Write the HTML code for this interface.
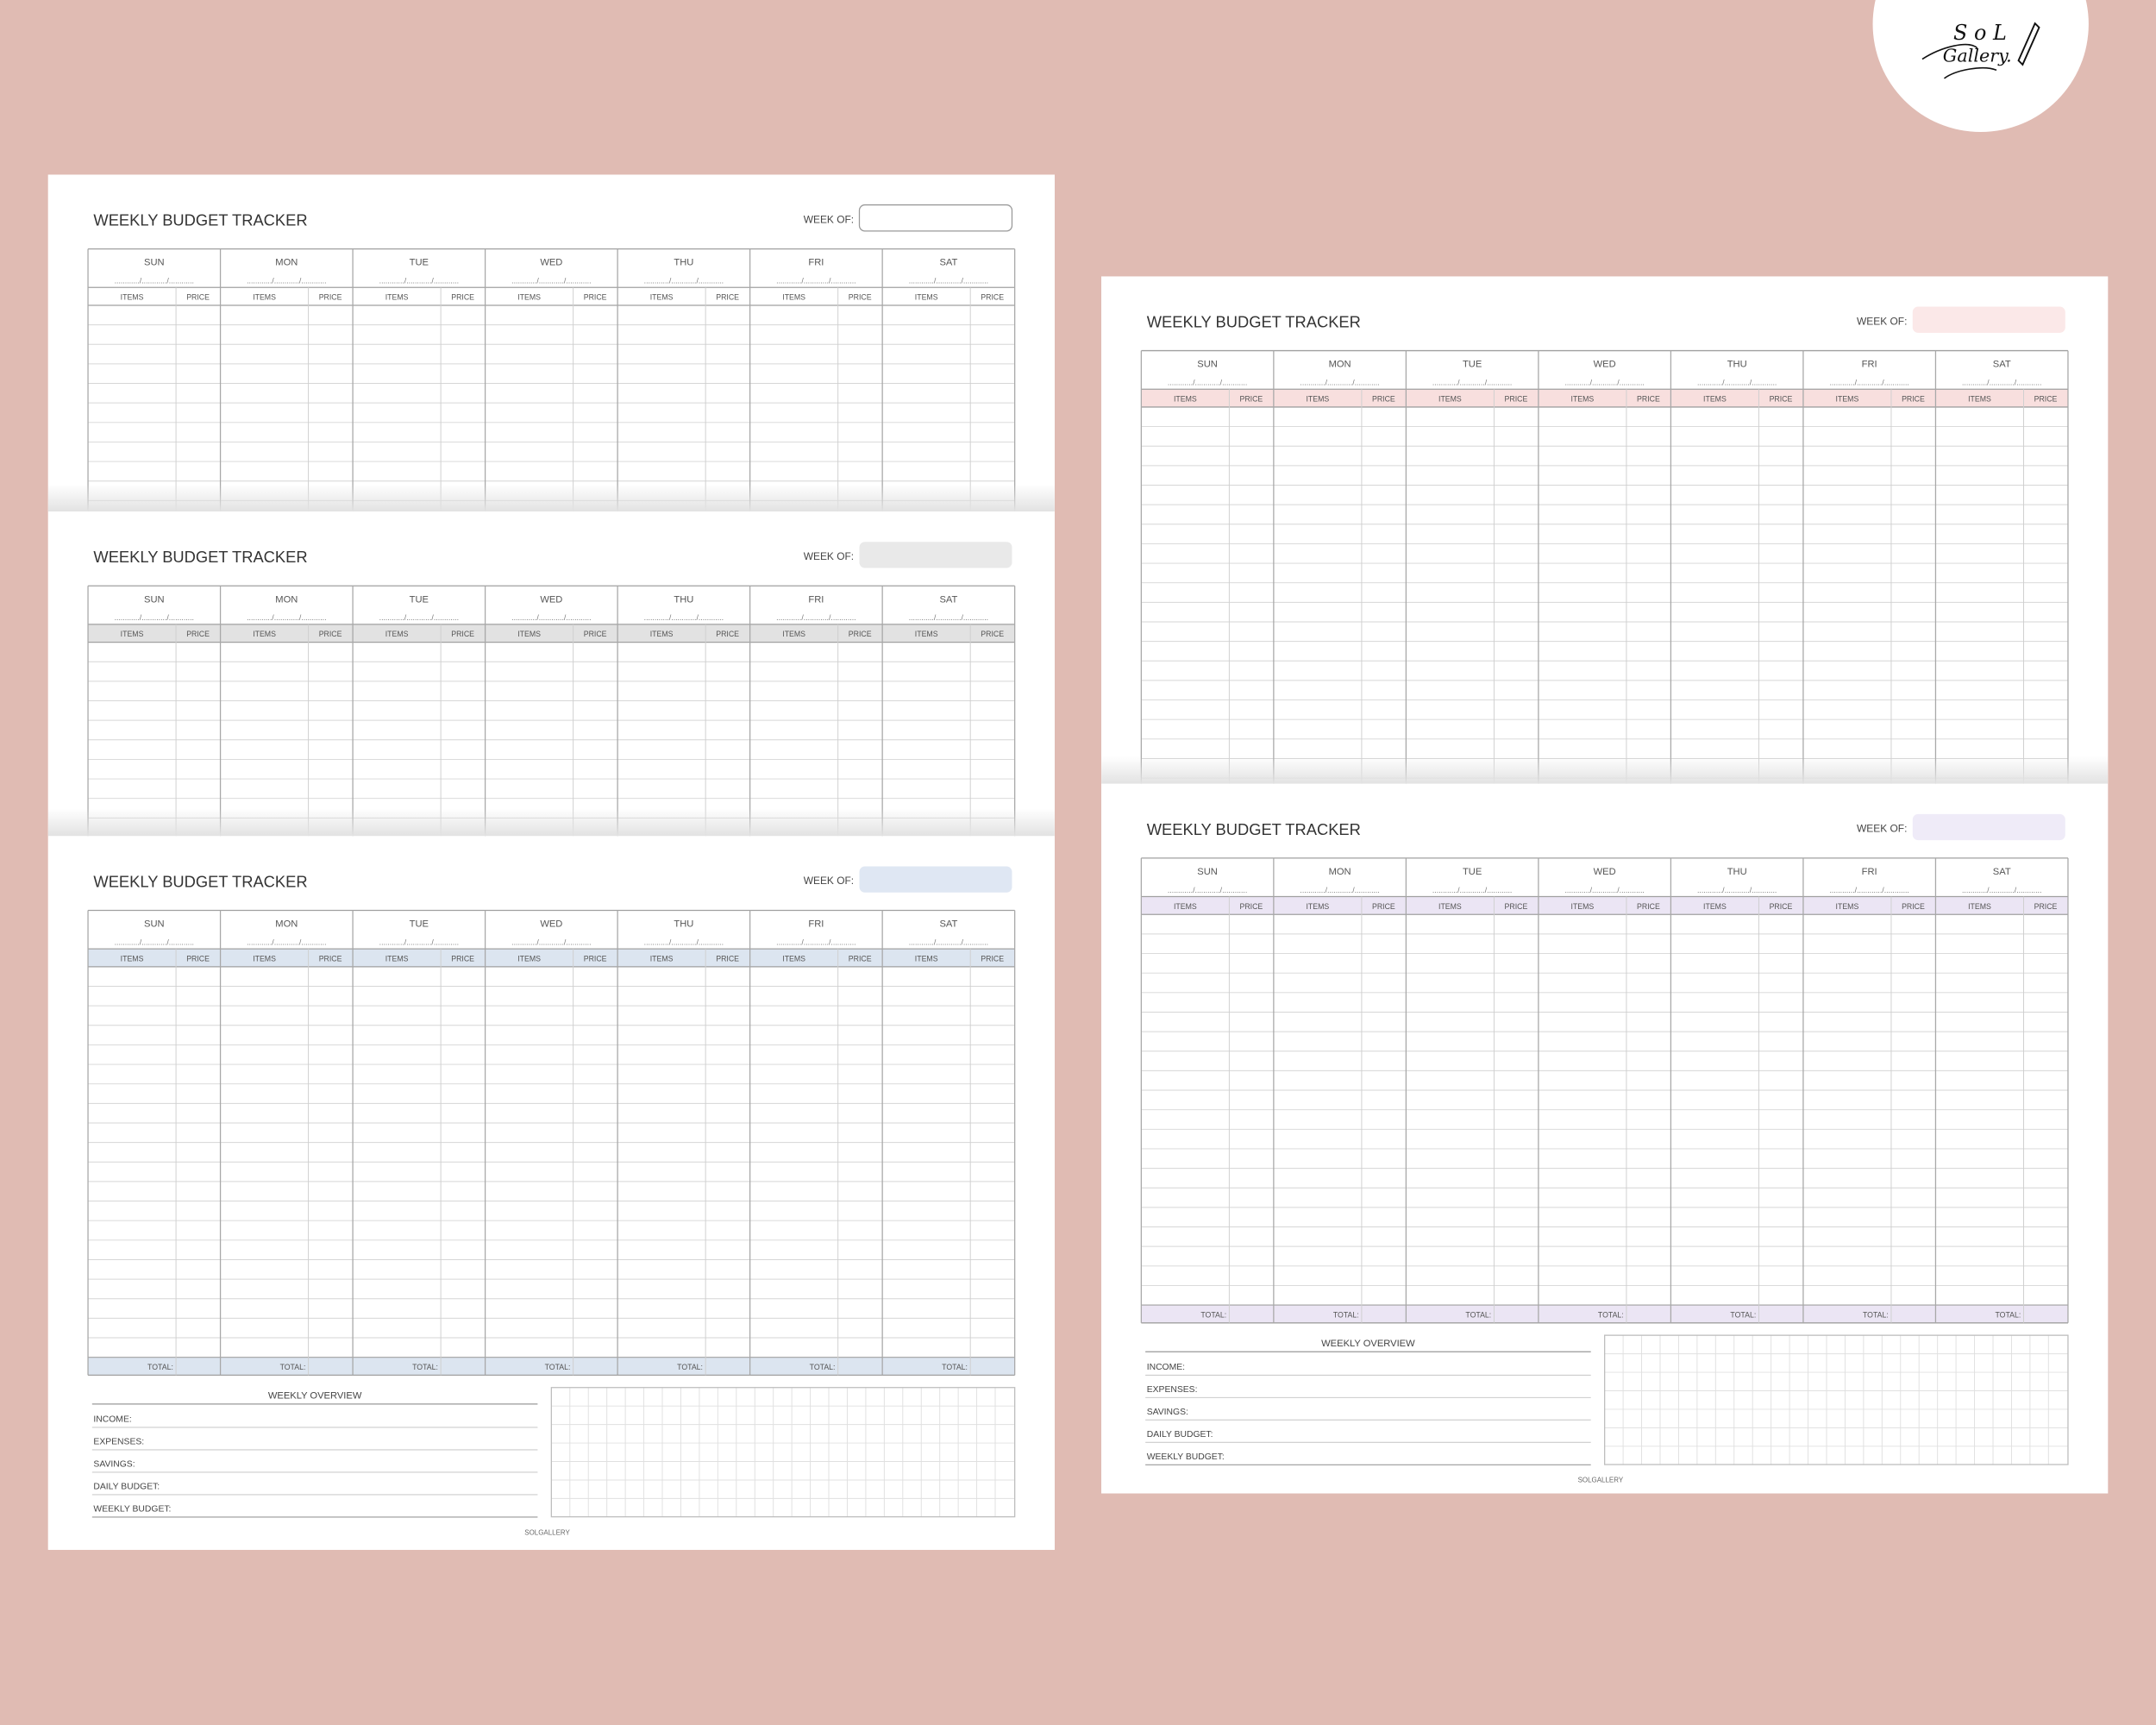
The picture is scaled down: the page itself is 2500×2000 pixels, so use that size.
<!DOCTYPE html>
<html><head><meta charset="utf-8">
<style>
html,body{margin:0;padding:0;background:#e0bbb3;width:2500px;height:2000px;overflow:hidden}
#stage{position:absolute;left:0;top:0;width:1568px;height:1254px;transform:scale(1.59439);transform-origin:0 0;font-family:"Liberation Sans",sans-serif}
.sheet{position:absolute;background:#fff}
.page{position:absolute;left:0;width:732px;overflow:hidden;background:#fff}
.page svg{position:absolute;left:0;top:0}
.shade{position:absolute;left:0;right:0;bottom:0;height:20px;background:linear-gradient(to bottom,rgba(255,255,255,0),#e2e2e2)}
#logo{position:absolute;left:1362px;top:-61px;width:157px;height:157px;border-radius:50%;background:#fff}
</style></head>
<body>
<div id="stage">
  <div id="logo">
    <svg width="157" height="157" viewBox="0 0 157 157">
      <text x="78" y="90" text-anchor="middle" font-family="DejaVu Serif, serif" font-style="italic" font-size="15" fill="#111">S o L</text>
      <text x="76" y="106" text-anchor="middle" font-family="DejaVu Serif, serif" font-style="italic" font-size="13" fill="#111">Gallery.</text>
      <path d="M118 78 L106 105 L109 108 L121 81 Z" fill="none" stroke="#111" stroke-width="1.2"/>
      <path d="M36 104 C50 95 70 90 76 96 M52 118 C60 112 80 108 90 112" fill="none" stroke="#111" stroke-width="1"/>
    </svg>
  </div>
  <div class="sheet" id="sheetL" style="left:35px;top:127px;width:732px;height:1000px"></div>
  <div class="sheet" id="sheetR" style="left:801px;top:201px;width:732px;height:885px"></div>
</div>
<script>
const days = ["SUN","MON","TUE","WED","THU","FRI","SAT"];
const overviewLabels = ["INCOME:","EXPENSES:","SAVINGS:","DAILY BUDGET:","WEEKLY BUDGET:"];
const rowCount = 20;
const NS = "http://www.w3.org/2000/svg";

function el(parent, tag, attrs, text) {
  const e = document.createElementNS(NS, tag);
  for (const k in attrs) e.setAttribute(k, attrs[k]);
  if (text !== undefined) e.textContent = text;
  parent.appendChild(e);
  return e;
}

function makePage(sheetId, top, height, band, box, boxStroke, full, name) {
  const sheet = document.getElementById(sheetId);
  const page = document.createElement('div');
  page.className = 'page';
  page.style.top = top + 'px';
  page.style.height = height + 'px';
  
  
  sheet.appendChild(page);
  const svg = el(page, 'svg', {width: 732, height: height});
  const F = '"Liberation Sans",sans-serif';

  const t = el(svg, 'text', {x: 33, y: 37, 'font-size': 11.5, fill: '#333', 'font-family': F}, 'WEEKLY BUDGET TRACKER');
  
  
  const wl = el(svg, 'text', {x: 586, y: 35, 'font-size': 7.5, fill: '#444', 'text-anchor': 'end', 'font-family': F}, 'WEEK OF:');
  
  
  const wb = el(svg, 'rect', {x: 590, y: 22, width: 111, height: 19, rx: 4, fill: box, stroke: boxStroke, 'stroke-width': 0.8});
  
  

  const X0 = 29, W = 674, colW = W / 7, T0 = 54, rowH = 14.2;
  const bottom = full ? 392 : height + 10;
  if (band !== 'none') el(svg, 'rect', {x: X0, y: 82, width: W, height: 13, fill: band});
  if (full) el(svg, 'rect', {x: X0, y: 95 + rowH * rowCount, width: W, height: 392 - (95 + rowH * rowCount), fill: band === 'none' ? '#fff' : band});
  const nRows = full ? rowCount : Math.ceil((height - 95) / rowH) + 1;
  for (let r = 1; r < nRows; r++) {
    const y = 95 + r * rowH;
    el(svg, 'line', {x1: X0, x2: X0 + W, y1: y, y2: y, stroke: '#d6d6d6', 'stroke-width': 0.6});
  }
  [T0, 82, 95].forEach(y => el(svg, 'line', {x1: X0, x2: X0 + W, y1: y, y2: y, stroke: '#a0a0a0', 'stroke-width': 0.8}));
  if (full) {
    el(svg, 'line', {x1: X0, x2: X0 + W, y1: 95 + rowH * rowCount, y2: 95 + rowH * rowCount, stroke: '#a0a0a0', 'stroke-width': 0.7});
    el(svg, 'line', {x1: X0, x2: X0 + W, y1: 392, y2: 392, stroke: '#a0a0a0', 'stroke-width': 0.8});
  }
  for (let i = 0; i <= 7; i++) {
    const x = X0 + i * colW;
    el(svg, 'line', {x1: x, x2: x, y1: T0, y2: bottom, stroke: '#a8a8a8', 'stroke-width': 0.8});
  }
  days.forEach((d, i) => {
    const x = X0 + i * colW;
    el(svg, 'line', {x1: x + 64, x2: x + 64, y1: 82, y2: bottom, stroke: '#cfcfcf', 'stroke-width': 0.6});
    const dn = el(svg, 'text', {x: x + colW / 2, y: 66, 'font-size': 7, fill: '#555', 'text-anchor': 'middle', 'font-family': F}, d);
    
    
    el(svg, 'text', {x: x + colW / 2, y: 79, 'font-size': 5.5, fill: '#777', 'text-anchor': 'middle', 'font-family': F}, '............/............/............');
    el(svg, 'text', {x: x + 32, y: 91, 'font-size': 5.5, fill: '#555', 'text-anchor': 'middle', 'font-family': F}, 'ITEMS');
    el(svg, 'text', {x: x + 80, y: 91, 'font-size': 5.5, fill: '#555', 'text-anchor': 'middle', 'font-family': F}, 'PRICE');
    if (full) {
      const tt = el(svg, 'text', {x: x + 62, y: 388, 'font-size': 5.5, fill: '#555', 'text-anchor': 'end', 'font-family': F}, 'TOTAL:');
      
      
    }
  });

  if (full) {
    const ot = el(svg, 'text', {x: 194, y: 409, 'font-size': 7, fill: '#444', 'text-anchor': 'middle', 'font-family': F}, 'WEEKLY OVERVIEW');
    
    
    el(svg, 'line', {x1: 32, x2: 356, y1: 413, y2: 413, stroke: '#999', 'stroke-width': 0.8});
    overviewLabels.forEach((lab, i) => {
      const y = 426 + i * 16.3;
      const lt = el(svg, 'text', {x: 33, y: y, 'font-size': 6.5, fill: '#444', 'font-family': F}, lab);
      
      
      el(svg, 'line', {x1: 32, x2: 356, y1: y + 4, y2: y + 4, stroke: i === 4 ? '#999' : '#ccc', 'stroke-width': 0.7});
    });
    const gx = 366, gy = 401, gw = 337, gh = 94, cell = 13.45;
    for (let x = gx + cell; x < gx + gw - 1; x += cell) el(svg, 'line', {x1: x, x2: x, y1: gy, y2: gy + gh, stroke: '#e0e0e0', 'stroke-width': 0.6});
    for (let y = gy + cell; y < gy + gh - 1; y += cell) el(svg, 'line', {x1: gx, x2: gx + gw, y1: y, y2: y, stroke: '#e0e0e0', 'stroke-width': 0.6});
    const gr = el(svg, 'rect', {x: gx, y: gy, width: gw, height: gh, fill: 'none', stroke: '#bdbdbd', 'stroke-width': 0.8});
    
    
    const sg = el(svg, 'text', {x: 363, y: 508, 'font-size': 5, fill: '#666', 'text-anchor': 'middle', 'font-family': F}, 'SOLGALLERY');
    
    
  } else {
    const sh = document.createElement('div');
    sh.className = 'shade';
    
    
    page.appendChild(sh);
  }
}

makePage('sheetL', 0, 245, 'none', '#fff', '#999', false, 'left-page-white');
makePage('sheetL', 245, 236, '#e2e2e2', '#e9e9e9', 'none', false, 'left-page-gray');
makePage('sheetL', 481, 519, '#dce5f0', '#dfe7f3', 'none', true, 'left-page-blue');
makePage('sheetR', 0, 369, '#f8dfde', '#fbe8e8', 'none', false, 'right-page-pink');
makePage('sheetR', 369, 516, '#ebe5f4', '#efebf8', 'none', true, 'right-page-lavender');
</script>
</body></html>
